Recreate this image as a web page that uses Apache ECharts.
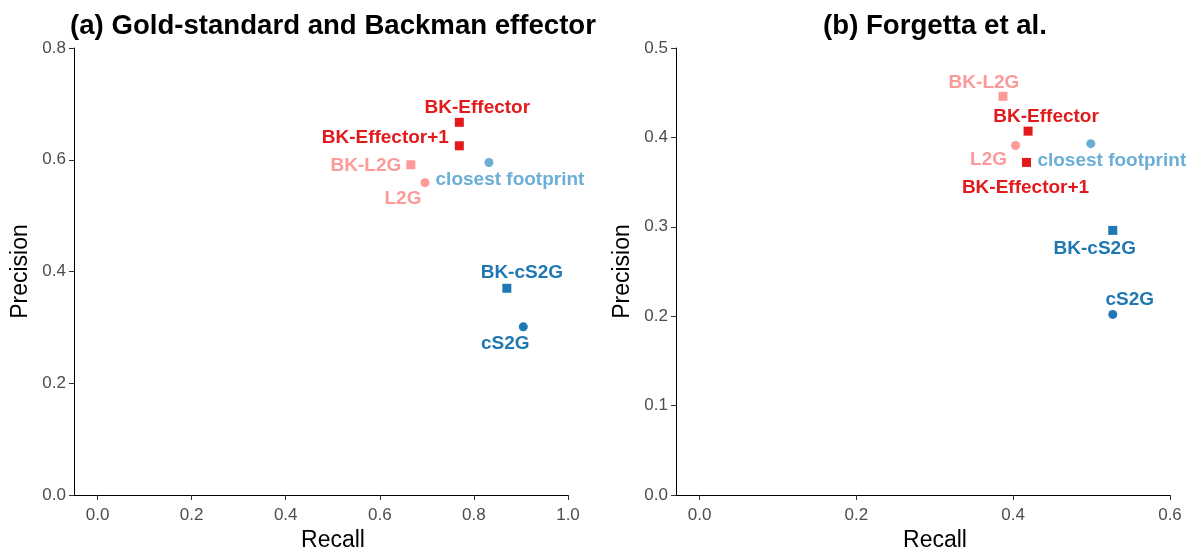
<!DOCTYPE html>
<html>
<head>
<meta charset="utf-8">
<script src="https://cdn.jsdelivr.net/npm/echarts@6/dist/echarts.min.js"></script>
<style>
  html, body { margin: 0; padding: 0; background: #ffffff; }
  #chart { width: 1195px; height: 552px; }
</style>
</head>
<body>
<div id="chart"></div>
<script>
// Gene-prioritisation methods and their recall / precision in two benchmarks
const methods = ['L2G', 'BK-L2G', 'closest footprint', 'cS2G', 'BK-cS2G', 'BK-Effector', 'BK-Effector+1'];

// (a) Gold-standard and Backman effector genes
const recallA    = [0.696, 0.666, 0.832, 0.905, 0.870, 0.769, 0.769];
const precisionA = [0.559, 0.591, 0.595, 0.301, 0.370, 0.667, 0.625];

// (b) Forgetta et al. genes
const recallB    = [0.403, 0.387, 0.499, 0.527, 0.527, 0.419, 0.417];
const precisionB = [0.391, 0.446, 0.393, 0.202, 0.296, 0.407, 0.372];

// tick labels
const xTicksA = [0, 0.2, 0.4, 0.6, 0.8, 1.0];
const xTicksB = [0, 0.2, 0.4, 0.6];

// styling per method
const methodColor = {
  'L2G': '#FB9A99', 'BK-L2G': '#FB9A99',
  'closest footprint': '#6BAED6',
  'cS2G': '#1F78B4', 'BK-cS2G': '#1F78B4',
  'BK-Effector': '#E31A1C', 'BK-Effector+1': '#E31A1C'
};
const methodSymbol = m => (m.startsWith('BK-') ? 'rect' : 'circle');

// repelled label offsets (pixels from the point)
const labelShiftA = {
  'L2G': [-22, 16], 'BK-L2G': [-45, 1], 'closest footprint': [21, 17],
  'cS2G': [-18, 17], 'BK-cS2G': [15, -15], 'BK-Effector': [18, -15], 'BK-Effector+1': [-74, -8]
};
const labelShiftB = {
  'L2G': [-27, 14], 'BK-L2G': [-19, -14], 'closest footprint': [21, 17],
  'cS2G': [17, -15], 'BK-cS2G': [-18, 18], 'BK-Effector': [18, -14], 'BK-Effector+1': [-1, 25]
};

const FONT = '"Liberation Sans", Arial, sans-serif';

function points(recall, precision, shift) {
  return methods.map((m, i) => ({
    name: m,
    value: [recall[i], precision[i]],
    symbol: methodSymbol(m),
    symbolSize: 9,
    itemStyle: { color: methodColor[m], opacity: 1 },
    label: {
      show: true,
      formatter: m,
      position: 'inside',
      offset: shift[m],
      align: 'center',
      verticalAlign: 'middle',
      color: methodColor[m],
      opacity: 1,
      fontFamily: FONT,
      fontWeight: 'bold',
      fontSize: 19
    }
  }));
}

function xAxis(idx, min, max, ticks) {
  return {
    gridIndex: idx, type: 'value', min: min, max: max,
    name: 'Recall', nameLocation: 'middle', nameGap: 33,
    nameTextStyle: { fontFamily: FONT, fontSize: 23, color: '#000', padding: [0, 0, 0, 24] },
    axisLine: { show: true, onZero: false, lineStyle: { color: '#000', width: 1 } },
    axisTick: { show: true, length: 5, lineStyle: { color: '#333' }, customValues: ticks },
    axisLabel: {
      customValues: ticks, margin: 12, fontFamily: FONT, fontSize: 17, color: '#4D4D4D',
      formatter: v => v.toFixed(1)
    },
    splitLine: { show: false }
  };
}

function yAxis(idx, max, step) {
  return {
    gridIndex: idx, type: 'value', min: 0, max: max, interval: step,
    name: 'Precision', nameLocation: 'middle', nameGap: 42,
    nameTextStyle: { fontFamily: FONT, fontSize: 23, color: '#000' },
    axisLine: { show: true, onZero: false, lineStyle: { color: '#000', width: 1 } },
    axisTick: { show: true, length: 5, lineStyle: { color: '#333' } },
    axisLabel: { margin: 8, fontFamily: FONT, fontSize: 17, color: '#4D4D4D', formatter: v => v.toFixed(1) },
    splitLine: { show: false }
  };
}

const chart = echarts.init(document.getElementById('chart'), null, { renderer: 'canvas' });
chart.setOption({
  animation: false,
  backgroundColor: '#ffffff',
  title: [
    { text: '(a) Gold-standard and Backman effector', left: 328, top: 7, textAlign: 'center',
      textStyle: { fontFamily: FONT, fontWeight: 'bold', fontSize: 27.6, color: '#000' } },
    { text: '(b) Forgetta et al.', left: 930, top: 7, textAlign: 'center',
      textStyle: { fontFamily: FONT, fontWeight: 'bold', fontSize: 27.6, color: '#000' } }
  ],
  grid: [
    { left: 74, top: 48, width: 494, height: 447, outerBoundsMode: 'none', containLabel: false },
    { left: 676, top: 48, width: 494, height: 447, outerBoundsMode: 'none', containLabel: false }
  ],
  xAxis: [xAxis(0, -0.05, 1.0, xTicksA), xAxis(1, -0.03, 0.6, xTicksB)],
  yAxis: [yAxis(0, 0.8, 0.2), yAxis(1, 0.5, 0.1)],
  series: [
    { type: 'scatter', xAxisIndex: 0, yAxisIndex: 0, data: points(recallA, precisionA, labelShiftA) },
    { type: 'scatter', xAxisIndex: 1, yAxisIndex: 1, data: points(recallB, precisionB, labelShiftB) }
  ]
});
</script>
</body>
</html>
